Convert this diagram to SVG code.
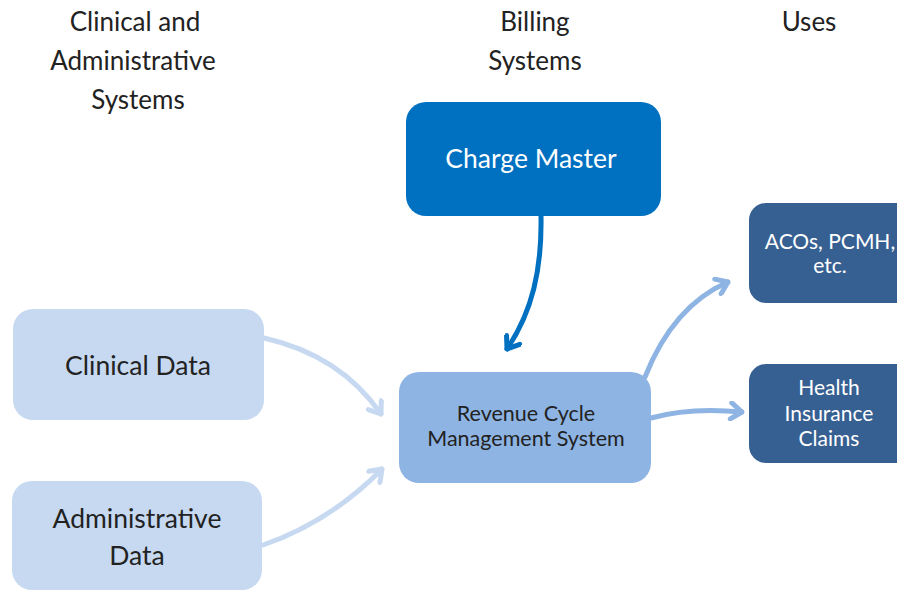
<svg xmlns="http://www.w3.org/2000/svg" width="897" height="590" viewBox="0 0 897 590">
<defs>
<style>
text{font-family:Lato,"Open Sans","Liberation Sans",sans-serif;text-anchor:middle;fill:#222}
.h{font-size:26px}
.big{font-size:26.5px}
.mid{font-size:21px}
.rc{font-size:21.5px}
.w{fill:#fff}
.c{fill:none;stroke-width:5;stroke-linecap:round}
</style>
<marker id="mL" markerUnits="userSpaceOnUse" viewBox="-14 -10 16 20" refX="0" refY="0" markerWidth="16" markerHeight="20" orient="auto"><path d="M-11,-8 L0,0 L-11,8" fill="none" stroke="#C6D9F1" stroke-width="5" stroke-linecap="round" stroke-linejoin="round"/></marker>
<marker id="mB" markerUnits="userSpaceOnUse" viewBox="-14 -10 16 20" refX="0" refY="0" markerWidth="16" markerHeight="20" orient="auto"><path d="M-11,-8 L0,0 L-11,8" fill="none" stroke="#0070C0" stroke-width="5" stroke-linecap="round" stroke-linejoin="round"/></marker>
<marker id="mM" markerUnits="userSpaceOnUse" viewBox="-14 -10 16 20" refX="0" refY="0" markerWidth="16" markerHeight="20" orient="auto"><path d="M-11,-8 L0,0 L-11,8" fill="none" stroke="#8EB4E3" stroke-width="5" stroke-linecap="round" stroke-linejoin="round"/></marker>
</defs>
<rect width="897" height="590" fill="#fff"/>
<g id="headers">
<text class="h" x="135" y="31">Clinical and</text>
<text class="h" x="133" y="70">Administrative</text>
<text class="h" x="138" y="109">Systems</text>
<text class="h" x="535" y="31">Billing</text>
<text class="h" x="535" y="70">Systems</text>
<text class="h" x="809" y="31">Uses</text>
</g>
<g id="connectors">
<path class="c" d="M264,338 Q340,355 381,414" stroke="#C6D9F1" marker-end="url(#mL)"/>
<path class="c" d="M263,545 Q330,522 382,469" stroke="#C6D9F1" marker-end="url(#mL)"/>
<path class="c" d="M541,216 C542,270 532,312 507,349" stroke="#0070C0" marker-end="url(#mB)"/>
<path class="c" d="M645,377 Q673,306 728,282" stroke="#8EB4E3" marker-end="url(#mM)"/>
<path class="c" d="M651,418 Q690,407 742,412" stroke="#8EB4E3" marker-end="url(#mM)"/>
</g>
<g id="charge-master">
<rect x="406" y="102" width="255" height="114" rx="20" fill="#0070C0"/>
<text class="big w" x="531" y="168">Charge Master</text>
</g>
<g id="clinical-data">
<rect x="13" y="309" width="251" height="111" rx="20" fill="#C6D9F1"/>
<text class="big" x="138" y="375">Clinical Data</text>
</g>
<g id="administrative-data">
<rect x="12" y="481" width="250" height="109" rx="20" fill="#C6D9F1"/>
<text class="big" x="137" y="528">Administrative</text>
<text class="big" x="137" y="565">Data</text>
</g>
<g id="rcm">
<rect x="399" y="372" width="252" height="111" rx="20" fill="#8EB4E3"/>
<text class="rc" x="526" y="421">Revenue Cycle</text>
<text class="rc" x="526" y="446">Management System</text>
</g>
<g id="acos">
<rect x="749" y="203" width="170" height="100" rx="17" fill="#376092"/>
<text class="mid w" x="830" y="249">ACOs, PCMH,</text>
<text class="mid w" x="830" y="273">etc.</text>
</g>
<g id="claims">
<rect x="749" y="364" width="170" height="99" rx="17" fill="#376092"/>
<text class="mid w" x="829" y="395">Health</text>
<text class="mid w" x="829" y="421">Insurance</text>
<text class="mid w" x="829" y="446">Claims</text>
</g>
</svg>
